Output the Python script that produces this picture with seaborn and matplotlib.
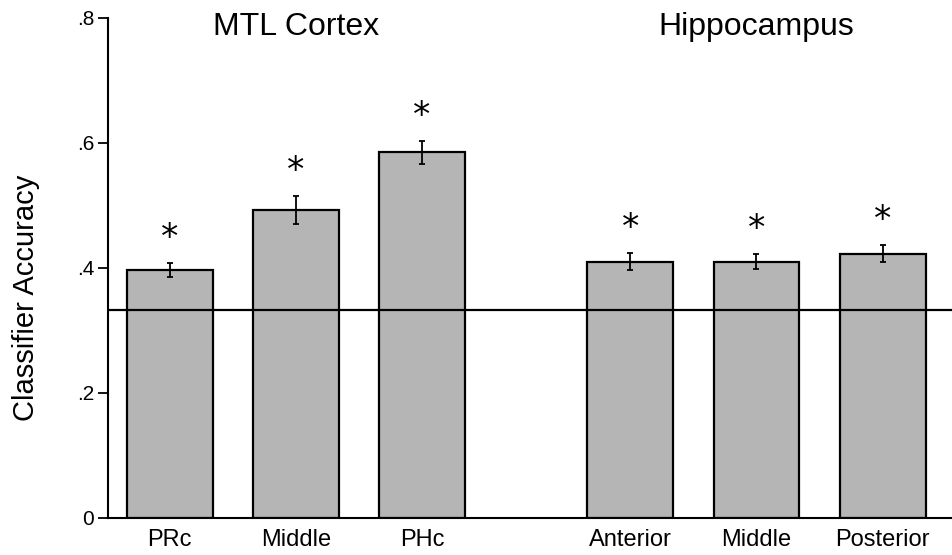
import matplotlib
matplotlib.use("Agg")
import matplotlib.pyplot as plt
import seaborn as sns
import pandas as pd

# values
regions = ["PRc", "Middle", "PHc", "Anterior", "Middle", "Posterior"]
groups = ["MTL Cortex", "MTL Cortex", "MTL Cortex", "Hippocampus", "Hippocampus", "Hippocampus"]
accuracy = [0.397, 0.493, 0.585, 0.410, 0.410, 0.423]
sem = [0.011, 0.022, 0.018, 0.014, 0.012, 0.013]
significant = [True, True, True, True, True, True]
chance = 1 / 3
y_ticks = [0, 0.2, 0.4, 0.6, 0.8]
y_ticklabels = ["0", ".2", ".4", ".6", ".8"]

# bar positions: groups separated by an extra gap
gap = 0.65
pos = []
for i, g in enumerate(groups):
    extra = gap if g == "Hippocampus" else 0
    pos.append(i + extra)

df = pd.DataFrame({"pos": pos, "acc": accuracy, "region": regions, "group": groups})

sns.set_style("ticks")
plt.rcParams["font.family"] = ["Liberation Sans", "DejaVu Sans"]
plt.rcParams["text.color"] = "black"
plt.rcParams["axes.labelcolor"] = "black"
plt.rcParams["xtick.color"] = "black"
plt.rcParams["ytick.color"] = "black"

fig = plt.figure(figsize=(9.52, 5.55), dpi=100)
ax = fig.add_axes([0.1134, 0.0667, 0.8866, 0.9009])

sns.barplot(data=df, x="pos", y="acc", native_scale=True, width=0.68,
            color="#b5b5b5", saturation=1, edgecolor="black", linewidth=1.6,
            errorbar=None, ax=ax)
ax.errorbar(df["pos"], df["acc"], yerr=sem, fmt="none", ecolor="black",
            elinewidth=1.3, capsize=2.5, capthick=1.3, zorder=4)
ax.axhline(chance, color="black", lw=1.6, zorder=5)

for x, a, e, s in zip(pos, accuracy, sem, significant):
    if s:
        ax.text(x, a + e + 0.04, "*", ha="center", va="center", fontsize=25,
                family="DejaVu Sans", color="black")

# group titles
for name in ["MTL Cortex", "Hippocampus"]:
    xs = [p for p, g in zip(pos, groups) if g == name]
    ax.text(sum(xs) / len(xs), 0.786, name, ha="center", va="center", fontsize=23)

ax.set_xlim(pos[0] - 0.49, pos[-1] + 0.55)
ax.set_ylim(0, 0.8)
ax.set_xticks(pos)
ax.set_xticklabels(regions, fontsize=17)
ax.tick_params(axis="x", length=0, pad=8)
ax.set_yticks(y_ticks)
ax.set_yticklabels(y_ticklabels, fontsize=15)
ax.tick_params(axis="y", length=7, width=1.3, pad=3)
ax.set_xlabel("")
ax.set_ylabel("Classifier Accuracy", fontsize=21)
ax.yaxis.set_label_coords(-0.08, 0.44)
for side in ["top", "right"]:
    ax.spines[side].set_visible(False)
for side in ["left", "bottom"]:
    ax.spines[side].set_linewidth(1.5)
    ax.spines[side].set_color("black")

fig.savefig("out.png", dpi=100)
